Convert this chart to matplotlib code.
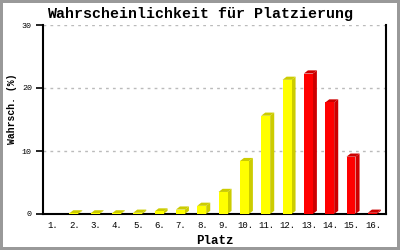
import matplotlib
matplotlib.use("Agg")
import matplotlib.pyplot as plt
from matplotlib.patches import Polygon

plaetze = ["1.", "2.", "3.", "4.", "5.", "6.", "7.", "8.", "9.", "10.",
           "11.", "12.", "13.", "14.", "15.", "16."]
werte = [0.0, 0.1, 0.1, 0.1, 0.2, 0.4, 0.7, 1.3, 3.5, 8.4,
         15.6, 21.3, 22.3, 17.7, 9.1, 0.2]
farben = ["yellow"] * 12 + ["red"] * 4

# front / dunkle Seite
palette = {"yellow": ("#ffff00", "#cccc00"), "red": ("#ff0000", "#cc0000")}

plt.rcParams["font.family"] = ["Liberation Mono", "DejaVu Sans Mono"]

fig = plt.figure(figsize=(4, 2.5), dpi=100)
fig.patch.set_edgecolor("#999999")
fig.patch.set_linewidth(3)
ax = fig.add_axes([0.1075, 0.144, 0.8575, 0.756])

dx, dy = 0.19, 0.5   # 3D-Versatz
for i, (v, f) in enumerate(zip(werte, farben)):
    if v <= 0:
        continue
    x = i + 1
    x0, x1 = x - 0.24, x + 0.18
    vorne, dunkel = palette[f]
    ax.add_patch(Polygon([(x1, 0), (x1 + dx, dy), (x1 + dx, v + dy), (x1, v)],
                         closed=True, facecolor=dunkel, edgecolor="none", zorder=3))
    ax.add_patch(Polygon([(x0, v), (x1, v), (x1 + dx, v + dy), (x0 + dx, v + dy)],
                         closed=True, facecolor=dunkel, edgecolor="none", zorder=3))
    ax.add_patch(Polygon([(x0, 0), (x1, 0), (x1, v), (x0, v)],
                         closed=True, facecolor=vorne, edgecolor="none", zorder=4))

ax.set_xlim(0.53, 16.61)
ax.set_ylim(0, 30)
ax.set_xticks(range(1, 17))
ax.set_xticklabels(plaetze)
ax.set_yticks([0, 10, 20, 30])
ax.tick_params(axis="x", length=0, labelsize=6.5, pad=5)
ax.tick_params(axis="y", length=5, width=1.2, direction="out", labelsize=6, pad=3)

for y in [10, 20, 30]:
    ax.axhline(y, color="#bbbbbb", lw=1, ls=(0, (2, 3)), zorder=1)

ax.spines["top"].set_visible(False)
for s in ["left", "right", "bottom"]:
    ax.spines[s].set_linewidth(1.5)

fig.text(0.5, 0.945, "Wahrscheinlichkeit für Platzierung", fontsize=10.8,
         fontweight="bold", ha="center", va="center")
ax.set_xlabel("Platz", fontsize=9, fontweight="bold", labelpad=4)
fig.text(0.031, 0.564, "Wahrsch. (%)", fontsize=7, fontweight="bold",
         rotation=90, ha="center", va="center")

fig.savefig("out.png", dpi=100, edgecolor=fig.get_edgecolor())
